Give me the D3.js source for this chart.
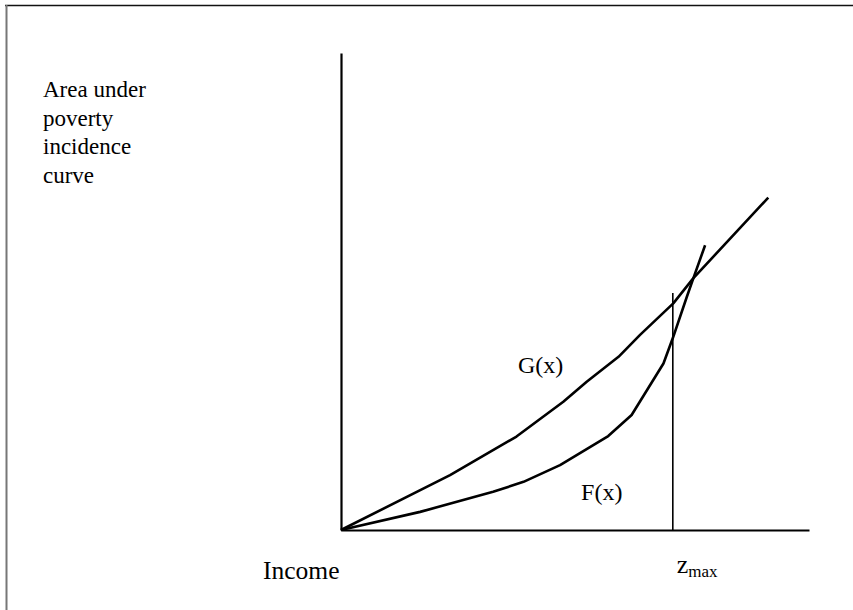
<!DOCTYPE html>
<html>
<head>
<meta charset="utf-8">
<script src="https://cdn.jsdelivr.net/npm/d3@7"></script>
<style>
  html, body { margin: 0; padding: 0; background: #fff; }
  svg { display: block; }
</style>
</head>
<body>
<svg id="chart" width="853" height="610"></svg>
<script>
// ---- data (income on x, area under poverty incidence curve on y) ----
const gIncome = [0, 23.3, 37.5, 47.5, 52.5, 59.3, 63.9, 71.0, 75.3, 91.3];
const gArea   = [0, 11.5, 19.6, 26.9, 31.1, 36.3, 40.9, 47.5, 52.8, 69.7];
const fIncome = [0, 16.9, 32.5, 39.0, 46.8, 57.1, 62.1, 68.9, 71.0, 73.9, 75.3, 77.8];
const fArea   = [0, 3.8, 8.0, 10.1, 13.6, 19.7, 24.1, 34.9, 40.5, 48.9, 52.8, 59.7];
const zMax = 70.9;
const zMaxTop = 49.7;
const yLabelLines = ["Area under", "poverty", "incidence", "curve"];
const xLabel = "Income";
const seriesLabels = [
  { name: "G(x)", x: 37.8, y: 32.9 },
  { name: "F(x)", x: 51.3, y: 6.3 }
];

const SERIF = "'Liberation Serif', 'Times New Roman', Times, serif";
const svg = d3.select("#chart");

// frame
svg.append("line").attr("x1", 5).attr("y1", 5.5).attr("x2", 853).attr("y2", 5.5)
  .attr("stroke", "#111").attr("stroke-width", 1.5);
svg.append("line").attr("x1", 6.5).attr("y1", 5).attr("x2", 6.5).attr("y2", 610)
  .attr("stroke", "#777").attr("stroke-width", 2);

const x = d3.scaleLinear().domain([0, 100]).range([341, 809]);
const y = d3.scaleLinear().domain([0, 100]).range([530, 53]);

// axes (plain lines, no ticks)
const xAxis = d3.axisBottom(x).tickValues([]).tickSizeOuter(0);
const yAxis = d3.axisLeft(y).tickValues([]).tickSizeOuter(0);
svg.append("g").attr("transform", `translate(0,${y(0)})`).call(xAxis)
  .select(".domain").attr("stroke", "#000").attr("stroke-width", 2.2);
svg.append("g").attr("transform", `translate(${x(0)},0)`).call(yAxis)
  .select(".domain").attr("stroke", "#000").attr("stroke-width", 2.2);

const line = d3.line().x(d => x(d[0])).y(d => y(d[1])).curve(d3.curveLinear);
const gData = gIncome.map((v, i) => [v, gArea[i]]);
const fData = fIncome.map((v, i) => [v, fArea[i]]);

svg.append("path").datum(gData).attr("d", line)
  .attr("fill", "none").attr("stroke", "#000").attr("stroke-width", 2.6)
  .attr("stroke-linejoin", "round");
svg.append("path").datum(fData).attr("d", line)
  .attr("fill", "none").attr("stroke", "#000").attr("stroke-width", 2.6)
  .attr("stroke-linejoin", "round");

// z_max vertical line
svg.append("line")
  .attr("x1", x(zMax)).attr("x2", x(zMax))
  .attr("y1", y(0)).attr("y2", y(zMaxTop))
  .attr("stroke", "#000").attr("stroke-width", 1.6);

// series labels
svg.selectAll("text.series").data(seriesLabels).enter().append("text")
  .attr("class", "series")
  .attr("font-family", SERIF)
  .attr("x", d => x(d.x)).attr("y", d => y(d.y))
  .attr("font-size", 24)
  .text(d => d.name);

// y label (multi-line)
const yl = svg.append("text").attr("font-family", SERIF)
  .attr("x", 43).attr("y", 97).attr("font-size", 23);
yLabelLines.forEach((t, i) => {
  yl.append("tspan").attr("x", 43).attr("dy", i === 0 ? 0 : 28.5).text(t);
});

// x label
svg.append("text").attr("font-family", SERIF)
  .attr("x", 263).attr("y", 578.5).attr("font-size", 25.5)
  .text(xLabel);

// z_max label
const zl = svg.append("text").attr("font-family", SERIF)
  .attr("x", x(zMax) + 4).attr("y", 573);
zl.append("tspan").attr("font-size", 26).text("z");
zl.append("tspan").attr("font-size", 17).attr("dy", 3.5).text("max");
</script>
</body>
</html>
